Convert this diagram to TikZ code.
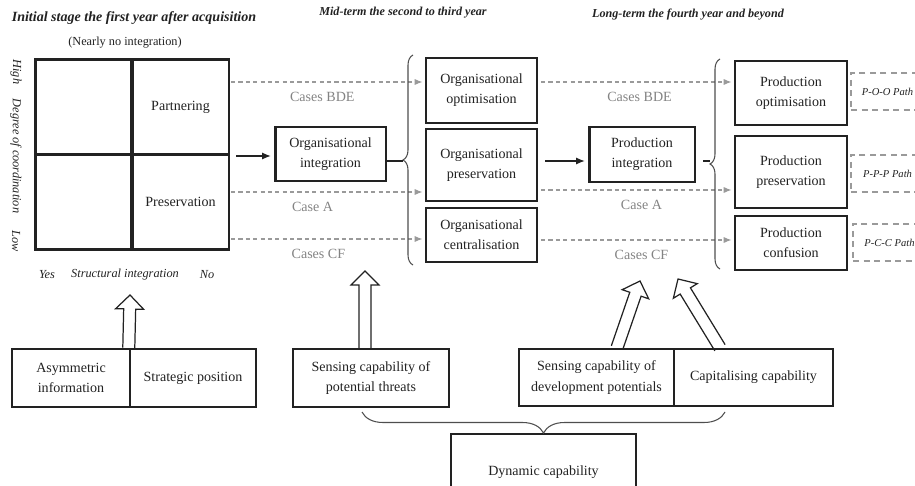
\documentclass[tikz,border=0pt]{standalone}
\usepackage{fontspec}
\setmainfont{Liberation Serif}
\usepackage{tikz}
\usetikzlibrary{arrows.meta,calc,decorations.pathreplacing}
\definecolor{inkgray}{HTML}{222222}
\definecolor{casegray}{HTML}{9A9A9A}
\tikzset{
  quadcell/.style={draw=inkgray,line width=1.7pt,minimum width=1.94cm,minimum height=1.9cm,inner sep=0pt},
  stagebox/.style={draw=inkgray,line width=0.9pt,align=center,inner sep=0pt},
  keybox/.style={stagebox,line width=1.7pt},
  capbox/.style={stagebox,line width=1.4pt},
  pathbox/.style={draw=casegray,dash pattern=on 3.5pt off 2.5pt,line width=0.6pt,font=\fontsize{6}{7}\selectfont\itshape,minimum width=1.46cm,minimum height=0.74cm,inner sep=0pt},
  casearc/.style={-{Latex[length=4.5pt,width=3.5pt]},draw=casegray,dash pattern=on 2.4pt off 1.8pt,line width=0.6pt,shorten >=1.5pt},
  caselab/.style={text=casegray!85!black,below=2pt},
  flowarc/.style={-{Latex[length=5pt,width=4pt]},draw=inkgray,line width=0.7pt,shorten >=1.5pt},
  bracearc/.style={decorate,decoration={brace,amplitude=0.2cm},draw=inkgray!80,line width=0.6pt},
  hollowarc/.style={draw=inkgray,line width=0.7pt,line join=miter},
  axislab/.style={font=\fontsize{7}{8}\selectfont\itshape},
  headlab/.style={font=\fontsize{8}{9}\selectfont\bfseries\itshape}
}

\begin{document}
\begin{tikzpicture}[x=0.02cm,y=-0.02cm,font=\fontsize{8}{11.5}\selectfont,text=inkgray]
  \useasboundingbox (0,0) rectangle (915,486);
  % stage headings
  \node[headlab] (h1) at (134,18) {Initial stage the first year after acquisition};
  \node[headlab,font=\fontsize{6.9}{8}\selectfont\bfseries\itshape] (h2) at (403,13) {Mid-term the second to third year};
  \node[headlab,font=\fontsize{6.9}{8}\selectfont\bfseries\itshape] (h3) at (688,15) {Long-term the fourth year and beyond};
  \node[font=\fontsize{7}{8}\selectfont] (nearly) at (125,43) {(Nearly no integration)};
  % integration matrix
  \node[quadcell] (q11) at (83.5,107) {};
  \node[quadcell] (q12) at (180.5,107) {Partnering};
  \node[quadcell] (q21) at (83.5,202) {};
  \node[quadcell] (q22) at (180.5,202) {Preservation};
  \node[axislab,rotate=-90] (high) at (16,72) {High};
  \node[axislab,rotate=-90] (degree) at (16,156) {Degree of coordination};
  \node[axislab,rotate=-90] (low) at (16,241) {Low};
  \node[axislab] (yes) at (47,275) {Yes};
  \node[axislab] (structint) at (125,275) {Structural integration};
  \node[axislab] (no) at (207,275) {No};
  % mid-term
  \node[keybox,minimum width=2.22cm,minimum height=1.08cm] (orgint) at (330.5,154) {Organisational\\integration};
  \node[stagebox,minimum width=2.22cm,minimum height=1.3cm] (orgopt) at (481.5,90.5) {Organisational\\optimisation};
  \node[stagebox,minimum width=2.22cm,minimum height=1.44cm] (orgpres) at (481.5,165) {Organisational\\preservation};
  \node[stagebox,minimum width=2.22cm,minimum height=1.08cm] (orgcent) at (481.5,235) {Organisational\\centralisation};
  % long-term
  \node[keybox,minimum width=2.12cm,minimum height=1.1cm] (prodint) at (642,154.5) {Production\\integration};
  \node[stagebox,minimum width=2.24cm,minimum height=1.28cm] (prodopt) at (791,93) {Production\\optimisation};
  \node[stagebox,minimum width=2.24cm,minimum height=1.44cm] (prodpres) at (791,172) {Production\\preservation};
  \node[stagebox,minimum width=2.24cm,minimum height=1.08cm] (prodconf) at (791,243) {Production\\confusion};
  \node[pathbox] (poo) at (887.5,91.5) {P-O-O Path};
  \node[pathbox] (ppp) at (887.5,173.5) {P-P-P Path};
  \node[pathbox] (pcc) at (889.5,242.5) {P-C-C Path};
  % capabilities
  \node[capbox,minimum width=2.36cm,minimum height=1.16cm] (asym) at (71,378) {Asymmetric\\information};
  \node[capbox,minimum width=2.52cm,minimum height=1.16cm] (strat) at (193,378) {Strategic position};
  \node[capbox,minimum width=3.12cm,minimum height=1.16cm] (threat) at (371,378) {Sensing capability of\\potential threats};
  \node[capbox,minimum width=3.1cm,minimum height=1.14cm] (devpot) at (596.5,377.5) {Sensing capability of\\development potentials};
  \node[capbox,minimum width=3.18cm,minimum height=1.14cm] (capit) at (753.5,377.5) {Capitalising capability};
  \node[capbox,minimum width=3.7cm,minimum height=1.52cm] (dyncap) at (543.5,472) {Dynamic capability};
  % cases
  \coordinate (bde1) at (231,82);
  \coordinate (a1) at (231,192);
  \coordinate (cf1) at (231,239);
  \coordinate (bde2) at (541,82);
  \coordinate (a2) at (541,190);
  \coordinate (cf2) at (541,240);
  \draw[casearc] (bde1) -- (bde1 -| orgopt.west) node[caselab,pos=0.47] {Cases BDE};
  \draw[casearc] (a1) -- (a1 -| orgpres.west) node[caselab,pos=0.42] {Case A};
  \draw[casearc] (cf1) -- (cf1 -| orgcent.west) node[caselab,pos=0.45] {Cases CF};
  \draw[casearc] (bde2) -- (bde2 -| prodopt.west) node[caselab,pos=0.51] {Cases BDE};
  \draw[casearc] (a2) -- (a2 -| prodpres.west) node[caselab,pos=0.52] {Case A};
  \draw[casearc] (cf2) -- (cf2 -| prodconf.west) node[caselab,pos=0.52] {Cases CF};
  % flow
  \coordinate (f1) at (236,156);
  \coordinate (f2) at (545,161);
  \draw[flowarc] (f1) -- (f1 -| orgint.west);
  \draw[flowarc] (f2) -- (f2 -| prodint.west);
  \coordinate (b1) at (403,161);
  \coordinate (b2) at (710,161);
  \draw[bracearc] (413,265) -- (413,55);
  \draw[bracearc] (720,269) -- (720,59);
  \draw[inkgray,line width=0.6pt] (orgint.east |- b1) -- (b1);
  \draw[inkgray,line width=0.6pt,shorten <=0.14cm] (prodint.east |- b2) -- (b2);
  \draw[bracearc,decoration={brace,amplitude=0.42cm}] (725,412) -- (362,412);
  % hollow arrows
  \coordinate (up1) at (strat.north west);
  \coordinate (tip1) at (130,295);
  \coordinate (up2) at ($(threat.north)+(-6,0)$);
  \coordinate (tip2) at (365,271);
  \coordinate (up3) at ($(devpot.north)+(20.5,0)$);
  \coordinate (tip3) at (640,281);
  \coordinate (up4) at ($(capit.north)+(-33.5,0)$);
  \coordinate (tip4) at (678,279);
  \foreach \s/\t in {up1/tip1,up2/tip2,up3/tip3,up4/tip4}{
    \coordinate (hb) at ($(\t)!0.28cm!(\s)$);
    \draw[hollowarc] ($(\s)!0.12cm!90:(\t)$) -- ($(hb)!0.12cm!90:(\t)$) -- ($(hb)!0.28cm!90:(\t)$) -- (\t)
      -- ($(hb)!0.28cm!-90:(\t)$) -- ($(hb)!0.12cm!-90:(\t)$) -- ($(\s)!0.12cm!-90:(\t)$);
  }
\end{tikzpicture}
\end{document}
